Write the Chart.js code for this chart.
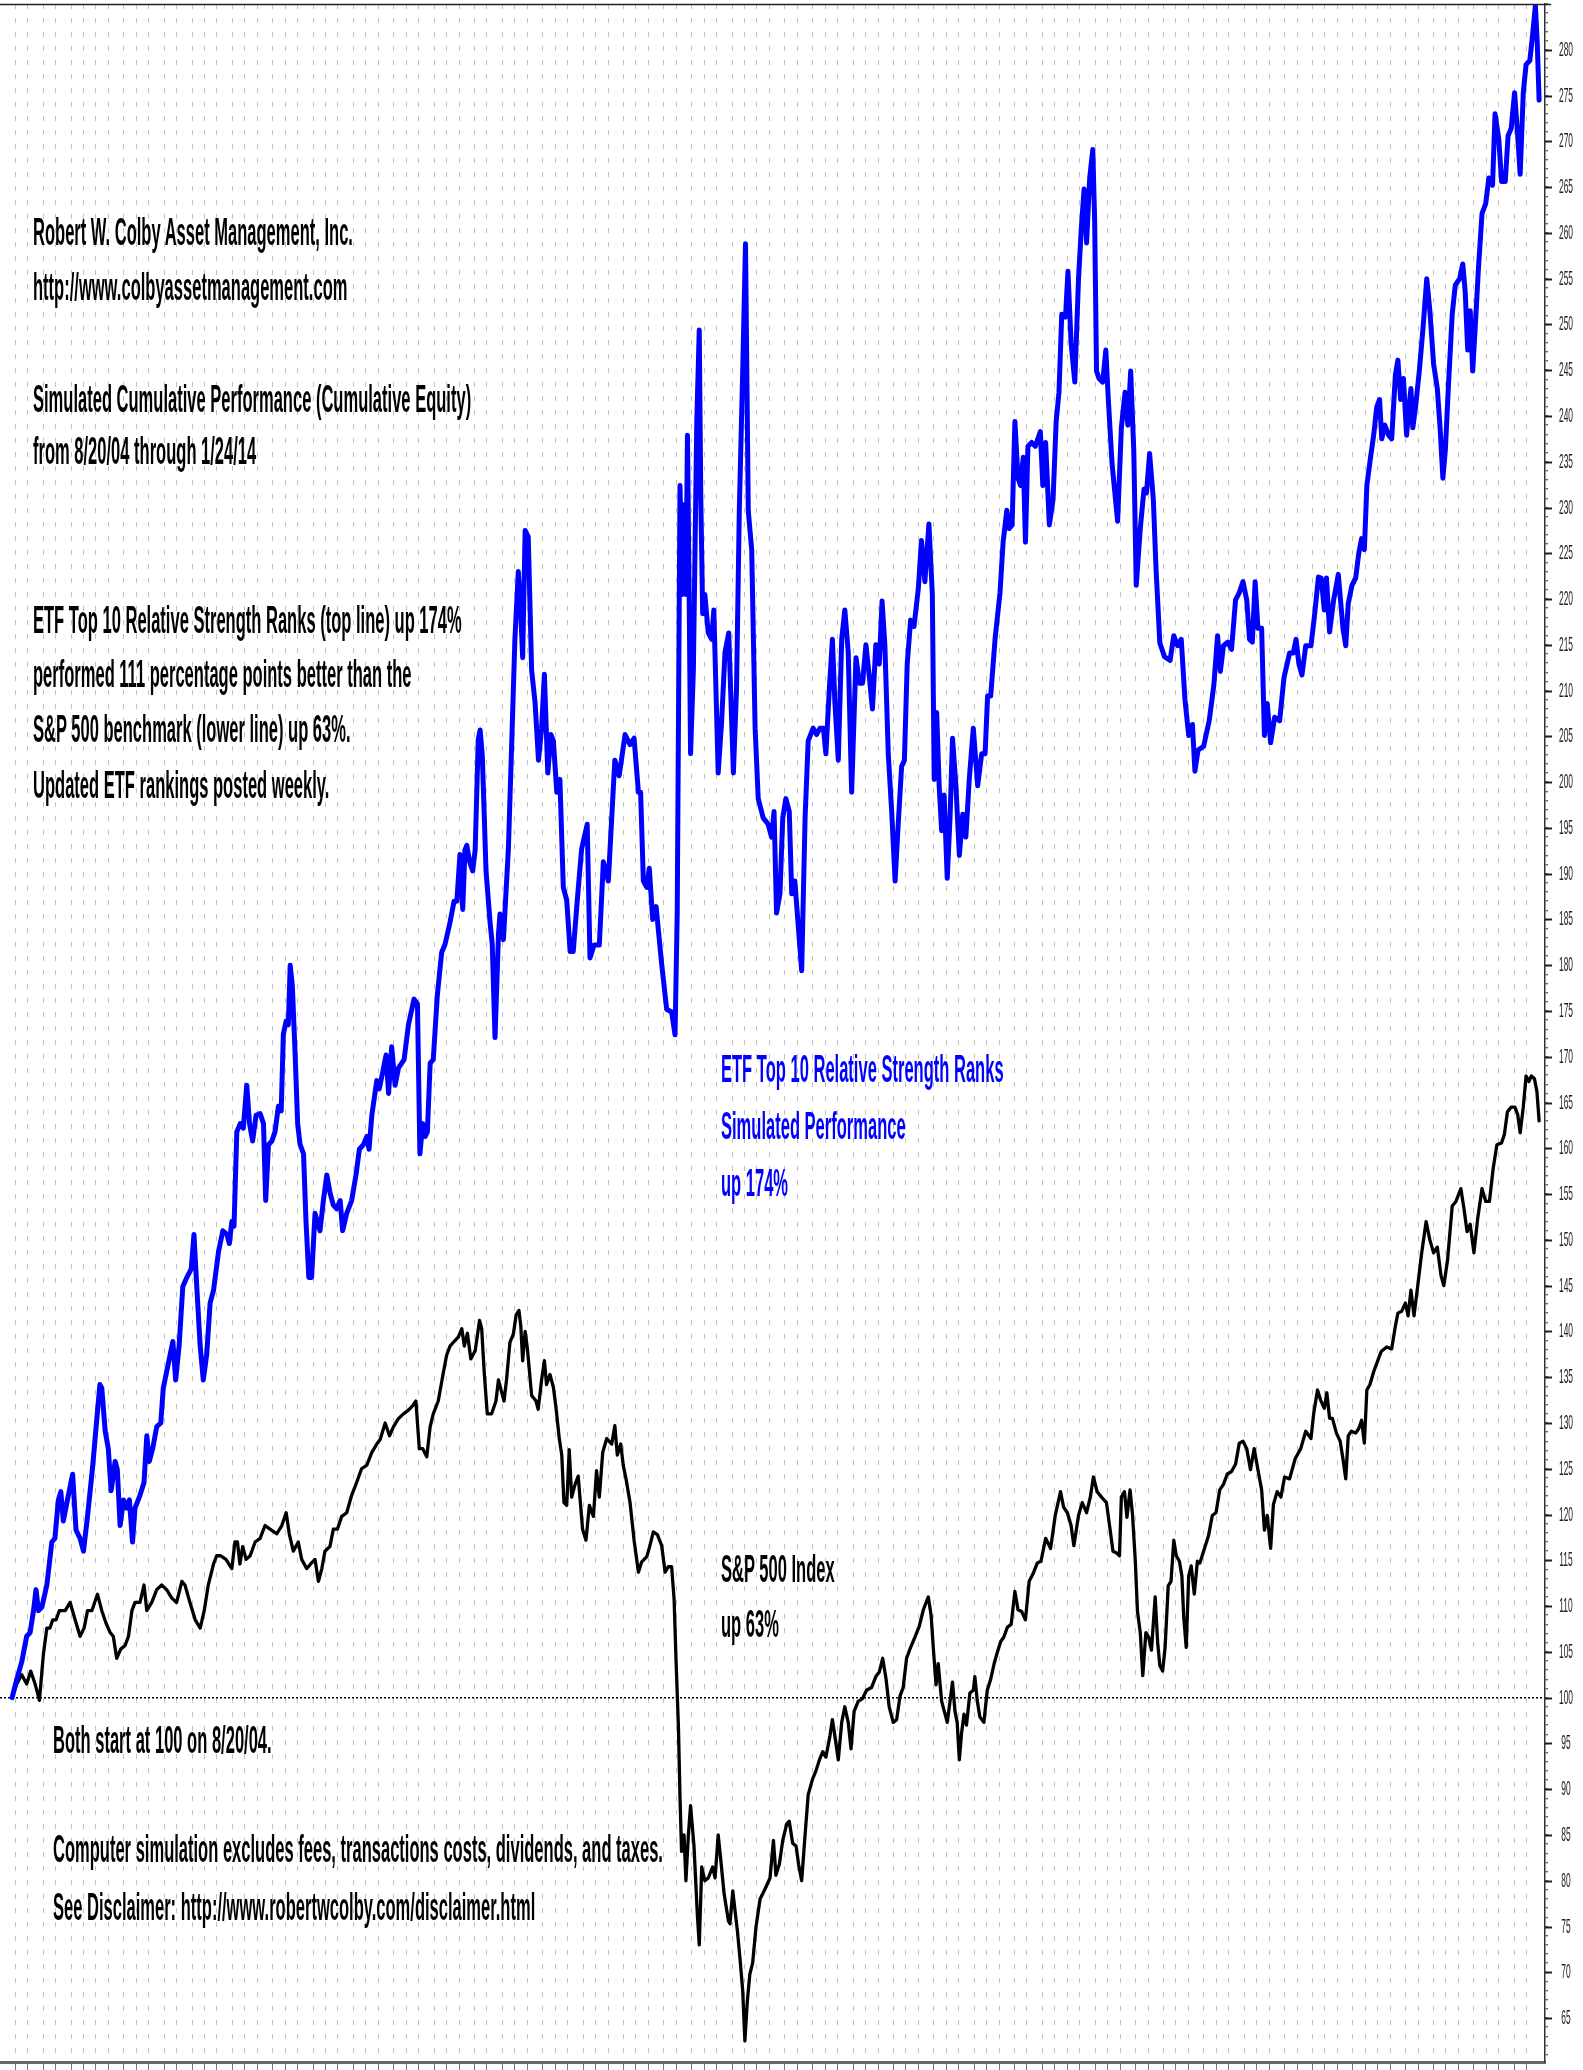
<!DOCTYPE html>
<html>
<head>
<meta charset="utf-8">
<script src="https://cdn.jsdelivr.net/npm/chart.js@4.4.1/dist/chart.umd.min.js"></script>
<style>
html,body{margin:0;padding:0;background:#fff;}
#wrap{position:relative;width:1583px;height:2070px;overflow:hidden;background:#fff;}
#c{position:absolute;left:0;top:0;}
.note{position:absolute;white-space:nowrap;font-family:"Liberation Sans",Arial,Helvetica,sans-serif;font-weight:bold;font-size:38px;line-height:38px;transform:scaleX(0.435);transform-origin:0 0;color:#000;}
.blue{color:#0000ff;}
</style>
</head>
<body>
<div id="wrap">
<canvas id="c" width="1583" height="2070"></canvas>
<div class="note" style="left:33px;top:213px">Robert W. Colby Asset Management, Inc.</div>
<div class="note" style="left:33px;top:268px">http://www.colbyassetmanagement.com</div>
<div class="note" style="left:33px;top:380px">Simulated Cumulative Performance (Cumulative Equity)</div>
<div class="note" style="left:33px;top:432px">from 8/20/04 through 1/24/14</div>
<div class="note" style="left:33px;top:601px">ETF Top 10 Relative Strength Ranks (top line) up 174%</div>
<div class="note" style="left:33px;top:655px">performed 111 percentage points better than the</div>
<div class="note" style="left:33px;top:710px">S&amp;P 500 benchmark (lower line) up 63%.</div>
<div class="note" style="left:33px;top:766px">Updated ETF rankings posted weekly.</div>
<div class="note blue" style="left:721px;top:1050px">ETF Top 10 Relative Strength Ranks</div>
<div class="note blue" style="left:721px;top:1107px">Simulated Performance</div>
<div class="note blue" style="left:721px;top:1164px">up 174%</div>
<div class="note" style="left:721px;top:1550px">S&amp;P 500 Index</div>
<div class="note" style="left:721px;top:1605px">up 63%</div>
<div class="note" style="left:53px;top:1721px">Both start at 100 on 8/20/04.</div>
<div class="note" style="left:53px;top:1830px">Computer simulation excludes fees, transactions costs, dividends, and taxes.</div>
<div class="note" style="left:53px;top:1888px">See Disclaimer: http://www.robertwcolby.com/disclaimer.html</div>
</div>
<script>
// ---- DATA (weeks since 8/20/04, cumulative equity; both start at 100) ----
const startYear = 2004, startMonth = 7, startDay = 20;   // 8/20/04
const totalWeeks = 492;                                   // through 1/24/14

const etfWeeks = [
  0,1.5,3.1,4.7,5.8,6.9,7.7,8.5,9.6,11.2,
  12.8,13.8,14.9,15.7,16.5,17.6,19.5,20.6,21.9,23.0,
  24.3,26.0,27.3,28.3,28.9,30.0,31.0,31.9,33.2,33.9,
  34.8,35.9,36.9,37.8,38.8,39.6,41.2,42.5,43.4,44.2,
  45.3,46.6,47.9,48.7,50.4,51.8,52.7,53.8,55.0,56.3,
  57.7,58.6,59.5,60.6,61.6,62.7,63.8,64.9,66.5,67.9,
  69.2,70.0,70.8,71.5,72.4,73.5,74.5,75.6,76.5,77.5,
  78.6,79.9,81.0,81.7,82.6,83.7,84.7,85.8,86.7,87.4,
  88.3,89.0,89.6,90.3,91.2,92.0,92.8,93.9,94.7,95.6,
  96.5,97.6,99.2,100.3,101.4,102.4,103.5,104.6,105.7,106.5,
  107.8,109.4,110.8,111.9,113.2,114.3,115.0,115.9,117.5,118.3,
  119.4,120.5,121.3,122.3,123.4,124.5,126.3,127.7,129.5,130.6,
  131.4,132.3,133.1,133.8,134.7,135.7,137.0,138.4,139.5,141.1,
  142.4,143.3,144.3,145.2,145.9,146.5,147.5,148.4,149.2,150.2,
  150.8,151.5,152.7,154.0,154.7,155.6,156.7,157.2,158.3,
  159.9,161.0,162.0,163.1,163.9,164.5,165.3,166.3,167.4,168.5,
  169.6,170.6,171.5,172.6,173.6,174.4,175.5,176.5,177.6,178.7,
  179.8,180.8,182.1,183.5,185.3,186.2,187.5,189.2,190.5,192.1,
  194.2,195.6,197.5,199.1,200.4,201.8,202.5,203.4,204.5,205.3,
  206.4,207.5,209.3,210.9,212.5,213.6,214.3,215.2,215.9,216.5,
  217.1,217.6,218.2,218.6,219.5,220.6,221.4,221.9,222.5,223.2,
  224.3,225.4,226.1,227.5,228.6,229.7,230.9,232.4,233.4,234.3,
  235.4,236.3,237.2,238.3,239.4,240.4,242.0,243.6,244.7,245.5,
  246.3,247.4,248.3,249.3,250.4,251.2,252.2,253.3,254.4,255.5,
  256.5,258.1,259.2,260.3,261.4,262.2,263.3,264.3,265.1,266.2,
  267.3,268.3,269.4,270.5,271.9,273.0,274.0,275.1,276.2,277.2,
  278.3,279.4,280.3,281.2,282.3,283.4,284.5,285.5,286.6,287.5,
  288.4,289.5,290.6,292.0,293.0,294.1,295.4,296.5,297.1,297.9,
  298.7,299.5,300.3,301.3,302.2,303.0,304.1,305.2,306.3,307.3,
  308.4,309.7,311.1,312.4,313.5,314.3,315.3,316.7,
  318.3,319.3,320.5,321.3,322.2,323.1,324.1,324.9,325.8,326.5,
  327.3,328.5,329.7,331.3,332.1,333.0,334.2,335.4,336.4,337.3,
  338.2,339.4,340.2,341.2,342.4,343.6,344.5,345.4,346.2,347.2,
  348.2,348.8,349.4,350.2,351.4,352.4,353.2,354.4,356.2,357.4,
  358.6,359.5,360.4,361.4,362.2,363.5,364.7,365.5,366.5,367.7,
  368.6,369.8,371.3,373.1,374.3,375.5,376.7,377.9,379.1,380.3,
  381.1,382.1,383.9,385.7,387.2,388.4,389.3,390.3,391.7,392.9,
  394.2,395.4,396.6,397.8,398.7,399.6,400.5,401.4,402.6,403.5,
  404.4,405.5,406.8,408.4,409.8,411.6,412.8,413.7,414.6,415.6,
  416.8,418.5,419.7,420.9,421.8,422.8,423.5,424.5,425.8,427.3,
  428.8,429.7,430.5,431.7,432.9,433.9,434.8,435.7,436.5,437.7,
  438.7,439.7,440.6,441.3,442.3,443.5,444.5,445.7,446.5,447.4,
  448.3,449.3,450.1,450.7,451.3,452.2,453.4,454.6,455.8,456.8,
  458.0,459.2,460.1,461.0,461.8,462.8,464.0,465.0,466.4,467.4,
  468.2,469.0,469.8,470.6,471.4,472.4,473.6,474.8,475.8,477.0,
  477.8,479.0,479.9,481.1,482.0,483.0,484.1,485.1,485.9,486.9,
  487.8,489.0,489.9,490.8,491.4,492
];
const etfValues = [
  100,102.0,103.9,106.7,107.1,109.5,111.8,109.5,109.9,112.3,
  117.0,117.4,121.6,122.5,119.3,121.2,124.4,118.3,117.4,116.0,
  119.8,125.4,130.5,134.2,133.8,129.1,127.2,122.6,125.8,124.9,
  118.8,121.6,120.7,121.6,117.0,120.7,122.1,123.5,128.6,125.8,
  127.2,129.6,130.0,133.8,136.6,138.9,134.7,138.4,144.9,145.9,
  146.8,150.6,144.9,138.4,134.7,137.5,143.1,144.5,148.7,151.0,
  150.6,149.6,152.0,151.5,161.8,162.7,162.2,166.9,162.7,160.8,
  163.6,163.8,162.7,154.3,160.4,160.8,161.8,164.6,164.1,172.5,
  173.9,173.5,180.0,177.7,170.2,162.7,160.4,159.4,152.0,145.9,
  145.9,152.9,151.0,154.3,157.1,155.2,153.8,153.4,154.3,151.0,
  152.9,154.3,157.1,159.9,160.4,161.3,159.9,163.6,167.4,166.5,
  168.3,170.2,166.0,171.1,166.9,168.8,169.7,173.5,176.3,175.8,
  159.4,162.7,161.3,161.8,169.3,169.7,176.7,181.4,182.3,184.7,
  187.0,187.0,192.1,186.1,192.6,193.1,191.2,190.3,192.6,204.7,
  205.7,202.9,190.3,184.7,182.3,172.1,183.3,185.6,182.8,
  192.7,204.5,215.6,223.0,218.4,213.6,227.5,226.8,212.2,208.7,
  202.4,205.9,211.8,201.0,205.2,204.5,198.9,200.3,188.5,187.1,
  181.5,181.5,187.1,192.7,195.4,180.8,182.2,182.2,191.3,189.2,
  202.4,200.7,205.2,204.1,204.8,198.9,198.9,189.2,188.5,190.6,
  185.0,186.4,180.1,175.2,174.9,172.4,185.7,232.4,220.5,230.3,
  220.5,237.9,218.4,203.1,212.2,239.3,249.4,231.0,218.4,220.5,
  216.3,215.6,218.8,201.0,206.6,214.2,216.3,201.0,210.1,229.6,
  244.9,258.8,229.6,225.4,205.9,198.2,196.1,195.4,194.0,196.8,
  185.7,187.8,196.1,198.2,196.8,187.8,189.2,184.3,179.4,196.1,
  204.5,205.9,205.2,205.9,205.9,203.1,210.1,215.6,208.7,202.4,
  215.6,218.8,214.2,198.9,213.6,210.8,210.8,215.0,211.5,208.0,
  215.0,212.9,219.8,215.0,203.1,196.8,189.2,195.4,201.7,202.4,
  212.9,217.7,217.0,221.2,226.4,221.9,228.2,220.5,200.3,207.6,
  199.6,194.7,198.6,189.5,196.1,204.8,199.6,192.0,196.5,194.0,
  200.3,205.9,199.6,203.1,203.1,209.4,209.4,215.6,
  220.7,226.2,229.7,227.7,228.1,239.4,233.2,232.4,235.5,226.2,
  236.7,237.1,236.7,238.3,232.4,237.1,228.1,230.9,239.4,242.6,
  251.1,250.8,255.8,248.0,243.7,255.0,260.5,264.8,258.9,266.0,
  269.1,261.3,244.9,244.1,243.7,247.2,241.8,234.8,228.5,238.7,
  242.6,239.0,244.9,236.3,221.5,227.7,232.0,231.6,235.9,230.9,
  223.1,215.2,213.7,213.3,216.0,214.9,215.6,209.0,205.1,206.3,
  201.2,203.5,203.9,206.7,210.6,216.0,212.1,214.9,215.3,214.5,
  219.9,220.7,221.9,219.9,215.6,215.3,221.9,216.8,216.8,205.1,
  208.6,204.3,207.1,206.7,211.4,214.1,214.1,215.6,212.9,211.7,
  214.9,214.9,218.4,222.4,222.3,218.8,222.3,216.4,219.9,222.7,
  216.8,214.9,219.5,221.5,222.3,225.0,226.6,225.4,232.4,235.5,
  237.9,241.0,241.8,237.5,239.0,237.9,237.5,244.5,246.1,241.8,
  244.1,237.9,241.0,243.0,238.7,241.0,244.9,249.6,255.0,251.5,
  245.7,243.0,238.7,233.2,236.3,243.4,251.1,254.3,255.0,256.6,
  253.5,247.2,251.5,244.9,249.6,255.8,262.1,263.2,266.0,265.2,
  273.0,270.3,265.6,265.6,270.6,271.4,275.3,270.6,266.4,275.3,
  278.4,278.8,281.6,284.8,280.8,274.5
];

const spWeeks = [
  0,1.5,3.1,4.7,6.0,7.4,8.8,10.1,11.2,12.2,
  13.1,14.2,15.2,17.1,18.7,20.3,21.9,23.2,24.3,25.7,
  27.5,28.9,30.3,31.6,32.6,33.7,35.0,36.4,37.5,38.6,
  39.6,41.2,42.5,43.4,45.0,46.6,48.2,49.8,51.4,53.0,
  54.7,55.7,57.3,59.0,60.6,61.9,63.2,64.9,65.9,67.2,
  68.9,70.8,71.8,72.6,73.4,74.3,75.4,76.7,78.3,79.9,
  81.5,83.1,85.3,86.9,88.3,89.3,90.6,92.2,93.3,94.9,
  96.2,97.6,98.7,99.8,100.8,102.4,103.5,104.8,106.2,107.8,
  109.4,111.0,112.6,114.3,115.9,117.5,118.6,120.2,121.6,122.9,
  124.5,126.1,127.7,129.1,130.1,131.2,132.3,133.6,134.7,135.7,
  137.3,139.0,140.0,141.1,142.4,143.8,144.9,145.7,146.7,147.8,
  149.2,150.6,151.3,152.1,153.1,154.5,155.9,156.7,
  158.5,159.3,160.4,161.5,162.4,163.3,163.9,164.5,165.3,166.0,
  167.4,168.8,169.5,170.6,171.5,172.2,173.3,174.4,175.2,176.3,
  177.1,177.8,178.7,179.5,180.3,181.4,182.4,183.8,184.9,186.0,
  187.3,188.3,189.2,190.3,191.6,193.2,194.2,195.0,196.1,196.9,
  197.8,199.1,200.4,201.8,202.8,204.5,205.5,206.6,207.9,209.3,
  210.4,211.4,212.5,213.3,213.9,214.7,215.2,215.7,216.5,217.1,
  217.9,218.6,219.7,220.8,221.4,222.2,223.2,224.3,225.7,226.5,
  227.5,228.3,229.4,230.8,231.3,232.2,232.9,233.7,234.5,235.4,
  236.1,236.9,237.7,238.6,239.7,241.0,242.6,244.2,245.3,246.1,
  247.2,248.3,249.6,250.4,251.5,252.6,253.4,254.4,255.5,256.5,
  257.9,259.0,260.1,261.2,262.2,263.5,264.3,265.1,266.2,267.3,
  268.3,269.4,270.3,271.3,272.6,274.0,275.3,276.9,278.3,279.4,
  280.5,281.6,282.6,283.9,285.0,286.1,287.1,288.2,289.5,290.9,
  292.3,293.6,295.2,296.1,296.8,297.7,298.4,299.5,300.6,301.3,
  302.2,303.0,303.8,304.5,305.2,305.9,306.7,307.5,308.6,309.7,
  310.2,311.0,311.8,313.1,314.2,315.3,316.4,317.4,318.5,
  319.5,320.7,321.9,323.1,324.1,325.3,326.5,327.7,328.9,330.3,
  331.5,333.0,334.6,336.1,337.8,338.8,340.0,341.2,342.1,343.6,
  344.8,346.2,347.4,348.4,349.6,351.0,352.6,353.8,354.7,355.9,
  356.8,357.4,358.4,359.2,360.2,361.0,361.9,362.6,363.5,364.3,
  365.3,366.2,367.1,368.3,369.1,369.8,370.7,371.5,372.5,373.4,
  374.3,375.1,376.1,376.9,377.5,378.3,379.1,379.9,380.9,381.9,
  382.7,383.9,385.5,386.7,387.9,389.1,390.3,391.5,392.9,394.2,
  395.4,396.6,397.8,399.0,400.2,401.4,402.6,403.5,404.4,405.5,
  406.4,407.6,408.8,410.0,411.6,413.4,415.2,416.8,418.5,419.4,
  420.6,421.6,422.8,423.6,424.5,425.4,426.7,427.9,428.8,429.7,
  430.5,431.5,432.9,433.9,434.8,435.7,436.5,437.5,438.7,439.9,
  441.1,442.9,444.5,445.7,446.5,447.7,448.9,449.8,450.7,451.7,
  452.9,454.1,455.6,456.8,458.0,459.2,460.4,461.3,462.5,464.0,
  465.2,466.8,467.8,468.8,469.8,471.0,472.2,473.6,474.8,476.0,
  477.2,478.4,479.9,480.8,481.8,483.0,484.2,485.1,485.9,486.9,
  487.8,488.7,489.5,490.5,491.3,492
];
const spValues = [
  100,101.5,102.5,101.5,102.9,101.5,99.7,104.8,107.6,107.6,
  108.5,108.5,109.5,109.5,110.4,108.5,106.7,107.6,109.5,109.5,
  111.3,109.5,108.1,107.1,106.7,104.3,105.3,105.7,106.7,109.5,
  110.4,110.4,112.3,109.5,110.4,111.8,112.3,111.8,110.9,110.4,
  112.7,112.3,110.4,108.5,107.6,109.5,112.3,114.6,115.5,115.5,
  115.1,114.1,117.0,117.0,114.6,116.5,115.1,115.5,117.0,117.4,
  118.8,118.4,117.9,118.8,120.2,117.9,116.0,117.0,115.1,114.1,
  114.6,115.1,112.7,114.1,116.0,116.5,118.4,118.4,119.8,120.2,
  122.1,123.5,125.0,125.4,126.8,127.7,128.2,130.0,128.6,129.6,
  130.5,131.0,131.4,131.9,132.4,127.2,127.2,126.3,129.6,131.0,
  132.4,135.6,137.4,138.4,138.9,139.4,140.3,138.4,139.8,137.0,
  137.9,141.2,140.3,135.6,131.0,131.0,132.4,134.7,
  132.4,134.7,138.8,139.7,141.8,142.3,140.6,136.8,140.0,138.2,
  133.0,132.4,131.5,134.7,136.8,134.2,135.3,133.9,131.8,128.3,
  126.5,121.3,121.0,127.1,121.9,123.3,124.2,118.4,117.2,121.0,
  119.8,124.8,121.9,126.8,128.3,127.7,129.7,126.5,127.7,125.4,
  123.9,121.3,117.2,113.7,114.8,115.4,116.6,118.1,117.8,116.6,
  113.7,114.3,114.3,110.7,104.3,96.7,89.1,83.2,85.0,80.0,
  85.0,88.2,83.8,76.2,73.0,81.5,80.0,80.3,81.5,80.3,
  85.0,82.4,78.6,75.6,75.3,78.9,76.8,74.5,71.6,68.0,
  62.5,66.9,69.8,71.0,75.0,78.0,79.1,80.3,84.4,80.6,
  81.8,84.4,86.2,86.5,84.1,83.8,81.8,80.0,85.0,89.4,
  91.1,92.0,93.2,94.1,93.5,95.8,97.6,95.8,93.2,97.3,
  99.0,97.3,94.4,98.5,99.6,99.9,100.8,101.1,102.3,102.8,
  104.3,102.0,99.0,97.3,97.6,100.2,101.1,104.3,105.5,106.6,
  107.8,109.6,111.0,109.0,105.5,101.4,103.7,99.6,98.2,97.3,
  99.6,101.7,98.5,97.3,93.2,96.1,98.2,97.0,100.5,100.8,
  102.3,99.6,97.9,97.3,100.8,102.0,103.7,104.9,106.1,
  106.6,107.7,108.0,111.6,109.6,109.4,108.5,112.7,113.5,114.7,
  114.9,117.4,116.3,119.9,122.5,120.8,120.2,118.8,116.6,119.9,
  121.3,120.2,121.9,124.1,122.5,121.9,121.3,118.3,116.0,115.8,
  115.5,121.9,122.5,119.7,122.7,120.0,114.9,109.4,107.1,102.4,
  107.1,106.6,105.2,111.0,106.0,103.5,102.9,105.5,112.2,112.7,
  117.2,115.5,114.9,113.3,108.8,105.5,113.3,114.4,111.3,114.9,
  114.7,116.0,117.7,119.9,120.2,122.7,123.3,124.4,124.7,125.5,
  127.8,128.0,127.2,124.9,127.2,124.9,122.7,118.3,119.9,116.3,
  121.1,122.5,121.9,124.1,123.9,126.1,127.2,129.1,128.3,131.1,
  133.6,132.5,131.6,133.3,130.5,130.5,128.9,128.0,126.1,123.9,
  128.6,129.1,128.9,129.4,130.3,127.8,133.6,134.2,135.6,136.7,
  137.8,138.3,138.1,140.6,142.0,142.2,143.1,141.7,144.5,141.7,
  145.0,148.4,152.0,150.0,148.6,149.2,146.1,145.0,147.8,153.7,
  154.2,155.6,153.4,150.9,151.7,148.6,152.3,155.6,154.2,154.2,
  157.8,160.4,160.6,161.5,164.0,164.5,164.5,163.7,161.7,164.5,
  167.9,167.3,167.9,167.6,166.2,163.0
];

const yLabelValues = [65,70,75,80,85,90,95,100,105,110,115,120,125,130,135,140,145,150,155,160,165,170,175,180,185,190,195,200,205,210,215,220,225,230,235,240,245,250,255,260,265,270,275,280];
const baselineValue = 100;

// ---- helpers ----
function pairs(xs, ys){ return xs.map((x,i)=>({x:x, y:ys[i]})); }
function monthEndWeeks(){
  const out = [];
  const t0 = Date.UTC(startYear, startMonth, startDay);
  const day = 86400000;
  for (let i = 0; i <= totalWeeks; i++){
    const d = new Date(t0 + i*7*day);
    const n = new Date(t0 + (i+1)*7*day);
    if (n.getUTCMonth() !== d.getUTCMonth()) out.push(i);
  }
  return out;
}
const gridWeeks = monthEndWeeks();

const axisDecor = {
  id: 'axisDecor',
  afterDraw(chart){
    const {ctx, chartArea:a, scales:{y}} = chart;
    ctx.save();
    ctx.strokeStyle = '#222';
    ctx.lineWidth = 1.5;
    ctx.beginPath();
    ctx.moveTo(a.left, a.top + 0.5);
    ctx.lineTo(a.right + 6, a.top + 0.5);
    ctx.stroke();
    ctx.fillStyle = '#222';
    ctx.font = '21px "Liberation Sans", Arial, sans-serif';
    ctx.textAlign = 'center';
    ctx.textBaseline = 'middle';
    yLabelValues.forEach(v => {
      const py = Math.round(y.getPixelForValue(v)) + 0.5;
      ctx.lineWidth = 2;
      ctx.beginPath();
      ctx.moveTo(a.right, py);
      ctx.lineTo(a.right + 7, py);
      ctx.stroke();
      ctx.save();
      ctx.translate(a.right + 21, py);
      ctx.scale(0.4, 1);
      ctx.fillText(String(v), 0, 0);
      ctx.restore();
    });
    ctx.restore();
  }
};

new Chart(document.getElementById('c'), {
  type: 'line',
  data: {
    datasets: [
      {
        label: 'ETF Top 10 Relative Strength Ranks',
        data: pairs(etfWeeks, etfValues),
        borderColor: '#0000ff',
        borderWidth: 5,
        pointRadius: 0,
        tension: 0,
        borderJoinStyle: 'round',
        borderCapStyle: 'round',
        fill: false
      },
      {
        label: 'S&P 500 Index',
        data: pairs(spWeeks, spValues),
        borderColor: '#000000',
        borderWidth: 3.3,
        pointRadius: 0,
        tension: 0,
        borderJoinStyle: 'round',
        borderCapStyle: 'round',
        fill: false
      }
    ]
  },
  options: {
    responsive: false,
    animation: false,
    devicePixelRatio: 1,
    layout: { padding: { top: 4, left: 0, right: 0, bottom: 0 } },
    plugins: { legend: { display: false }, tooltip: { enabled: false } },
    scales: {
      x: {
        type: 'linear',
        min: -3.9,
        max: 493.9,
        afterBuildTicks: s => { s.ticks = gridWeeks.map(v => ({ value: v })); },
        afterFit: s => { s.height = 8; },
        ticks: { display: false },
        grid: { color: '#c2c2c2', lineWidth: 1, drawTicks: true, tickLength: 8, tickColor: '#777', tickWidth: 1 },
        border: { display: true, color: '#666', width: 3, dash: [5, 9] }
      },
      y: {
        type: 'linear',
        position: 'right',
        min: 60.2,
        max: 285,
        afterBuildTicks: s => {
          const t = [];
          for (let v = 61; v <= 285; v++) t.push({ value: v });
          s.ticks = t;
        },
        afterFit: s => { s.width = 38; },
        ticks: { display: false },
        grid: {
          color: c => (c.tick && c.tick.value === baselineValue) ? '#000' : 'rgba(0,0,0,0)',
          lineWidth: 1.5,
          drawTicks: true,
          tickLength: 3,
          tickColor: '#333',
          tickWidth: 1
        },
        border: {
          display: true, color: '#333', width: 1.5,
          dash: c => (c.tick && c.tick.value === baselineValue) ? [2, 2] : []
        }
      }
    }
  },
  plugins: [axisDecor]
});
</script>
</body>
</html>
